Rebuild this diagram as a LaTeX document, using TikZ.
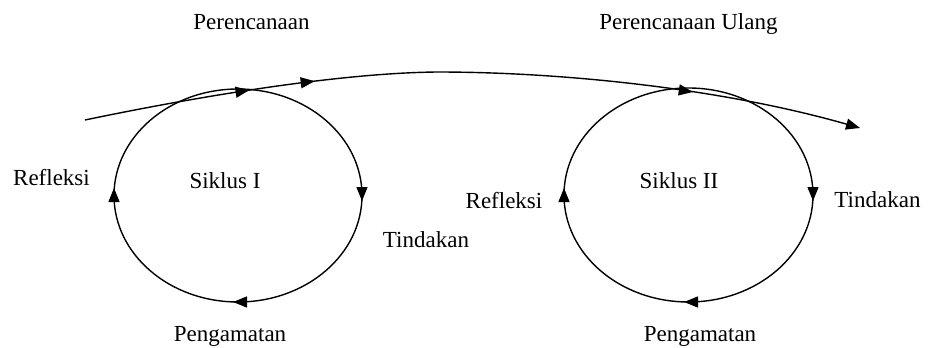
\documentclass[tikz,border=0pt]{standalone}
\usepackage{fontspec}
\setmainfont{Liberation Serif}
\usetikzlibrary{arrows.meta,shapes.geometric,calc,decorations.markings}
\begin{document}
\begin{tikzpicture}[x=0.5pt,y=-0.5pt,
  lbl/.style={anchor=base,inner sep=0pt,font=\fontsize{11.5}{13}\selectfont},
  cyc/.style={ellipse,draw,line width=0.7pt,inner sep=0pt},
  tip/.style={-{Triangle[length=7pt,width=5.5pt]},line width=0.7pt},
  path/.style={line width=0.7pt},
  marks/.style 2 args={postaction={decorate},decoration={markings,
    mark=at position #1 with {\arrow{Triangle[length=7pt,width=5.5pt]}},
    mark=at position #2 with {\arrow{Triangle[length=7pt,width=5.5pt]}}}},
  mark1/.style={postaction={decorate},decoration={markings,
    mark=at position #1 with {\arrow{Triangle[length=7pt,width=5.5pt]}}}}]
\useasboundingbox (0,0) rectangle (928,348);
% cycles
\node[cyc,minimum width=124pt,minimum height=106.5pt] (c1) at (238,195.5) {};
\node[cyc,minimum width=124.5pt,minimum height=107pt] (c2) at (688.5,195) {};
% arrowheads on cycles
\coordinate (c1w) at (114,188);
\coordinate (c1e) at (362,201);
\coordinate (c1s) at (233,302);
\coordinate (c2w) at (564,188);
\coordinate (c2e) at (813,201);
\coordinate (c2s) at (684,302);
\draw[tip] ([yshift=-1pt]c1w) -- (c1w);
\draw[tip] ([yshift=1pt]c1e) -- (c1e);
\draw[tip] ([xshift=1pt]c1s) -- (c1s);
\draw[tip] ([yshift=-1pt]c2w) -- (c2w);
\draw[tip] ([yshift=1pt]c2e) -- (c2e);
\draw[tip] ([xshift=1pt]c2s) -- (c2s);
% main path
\coordinate (s) at (85,120);
\coordinate (pk) at (437,72);
\coordinate (e) at (860,128);
\draw[path,marks={0.47}{0.655}] (s) .. controls (200,96) and (340,73) .. (pk);
\draw[path,mark1={0.6},tip] (pk) .. controls (560,72) and (720,88) .. (e);
% labels
\node[lbl] (t1) at (251.5,30) {Perencanaan};
\node[lbl] (t2) at (688.5,30) {Perencanaan Ulang};
\node[lbl] (r1) at (51.5,185) {Refleksi};
\node[lbl] (s1) at (225,188) {Siklus I};
\node[lbl] (d1) at (426,247) {Tindakan};
\node[lbl] (g1) at (230,341) {Pengamatan};
\node[lbl] (r2) at (504,208) {Refleksi};
\node[lbl] (s2) at (679,188) {Siklus II};
\node[lbl] (d2) at (877.5,207) {Tindakan};
\node[lbl] (g2) at (700,341) {Pengamatan};
\end{tikzpicture}
\end{document}
